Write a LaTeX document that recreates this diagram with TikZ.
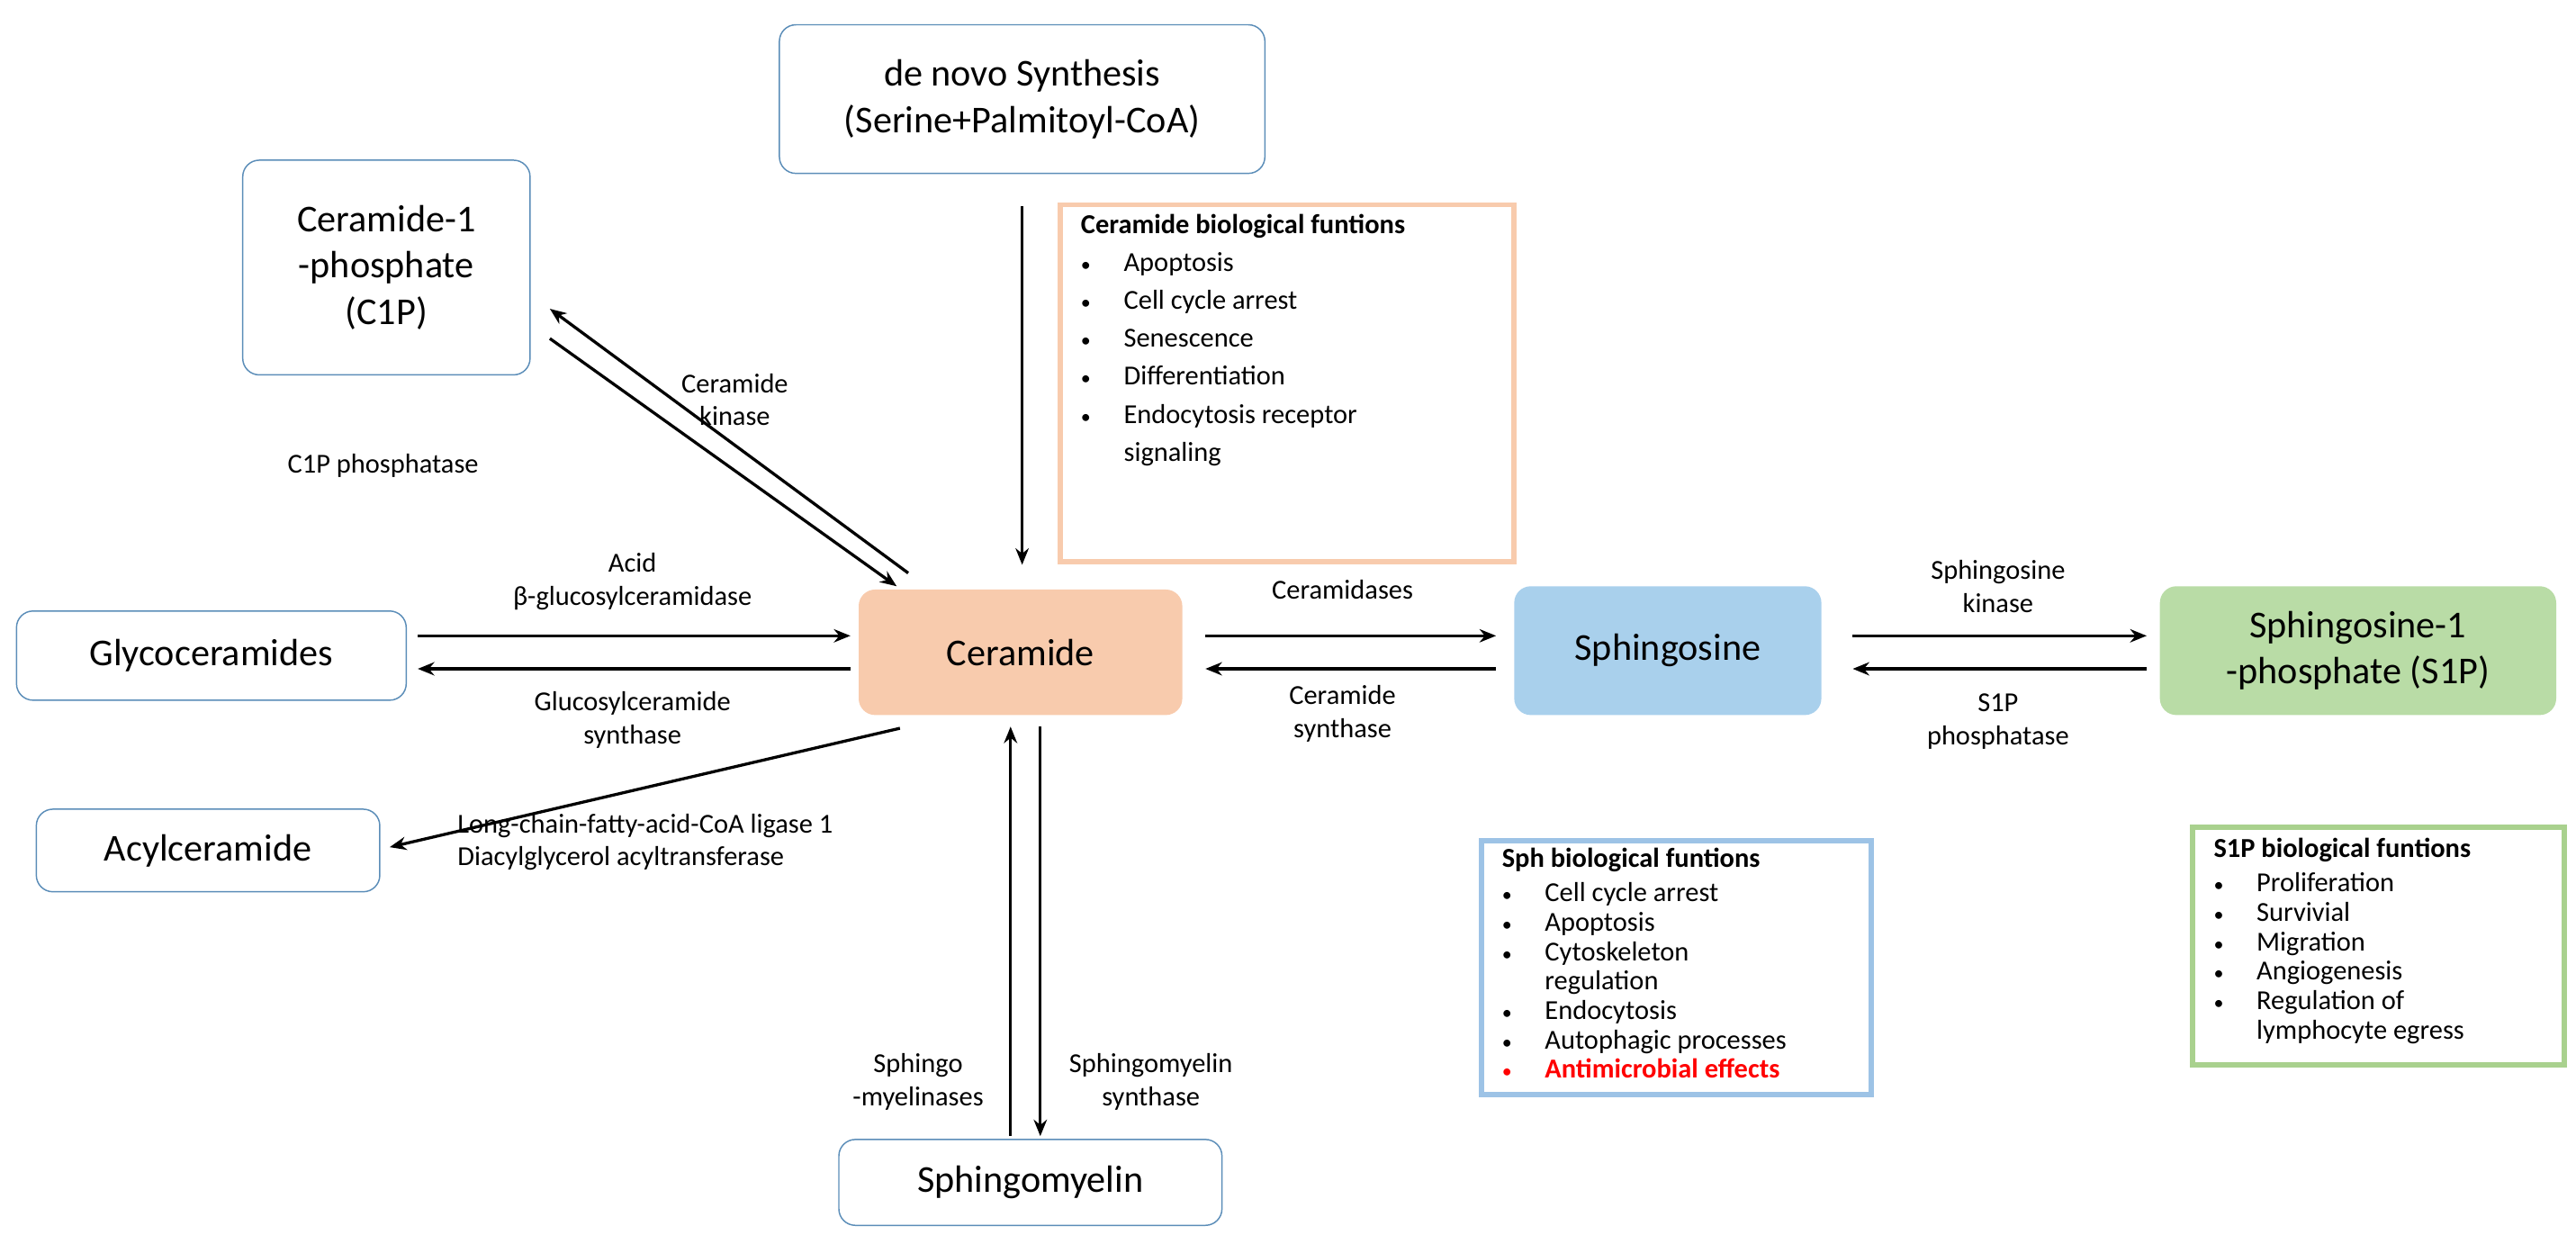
\documentclass[tikz,border=0pt]{standalone}
\usepackage{fontspec}
\setmainfont{Carlito}
\usetikzlibrary{arrows.meta}
\definecolor{bedge}{HTML}{5B8DB8}
\definecolor{cer}{HTML}{F8CBAD}
\definecolor{sph}{HTML}{A9D0EC}
\definecolor{sop}{HTML}{B9DCA6}
\definecolor{cerb}{HTML}{F8CBAD}
\definecolor{sphb}{HTML}{9DC3E6}
\definecolor{sopb}{HTML}{A9D18E}
\newcommand{\bul}{{\fontsize{6}{6}\selectfont\textbullet}}
\begin{document}
\begin{tikzpicture}[x=0.5pt,y=-0.5pt,
 box/.style={draw=bedge,rounded corners=5pt,align=center,font=\fontsize{11.5}{14}\selectfont,inner sep=0pt},
 fill box/.style={rounded corners=5pt,align=center,font=\fontsize{11.5}{14}\selectfont,inner sep=0pt},
 lab/.style={align=center,font=\fontsize{8.3}{10}\selectfont},
 arr/.style={-{Stealth[length=5pt,width=4pt]},line width=0.9pt},
 fb/.style={line width=1.6pt,align=left,anchor=north west,inner sep=4pt}]
\useasboundingbox (0,0) rectangle (1560,753);
\node[box,minimum width=147pt,minimum height=45pt] (denovo) at (619,60) {de novo Synthesis\\(Serine+Palmitoyl-CoA)};
\node[box,minimum width=87pt,minimum height=65pt] (c1p) at (234,162) {Ceramide-1\\-phosphate\\(C1P)};
\node[box,minimum width=118pt,minimum height=27pt] (glyco) at (128,397) {Glycoceramides};
\node[box,minimum width=104pt,minimum height=25pt] (acyl) at (126,515) {Acylceramide};
\node[fill box,fill=cer,minimum width=98pt,minimum height=38pt] (cer) at (618,395) {Ceramide};
\node[fill box,fill=sph,minimum width=93pt,minimum height=39pt] (sph) at (1010,394) {Sphingosine};
\node[fill box,fill=sop,minimum width=120pt,minimum height=39pt] (s1p) at (1428,394) {Sphingosine-1\\-phosphate (S1P)};
\node[box,minimum width=116pt,minimum height=26pt] (sm) at (624,716) {Sphingomyelin};

\coordinate (d1) at (619,125); \coordinate (d2) at (619,342);
\draw[arr] (d1) -- (d2);
\coordinate (a1) at (550,347); \coordinate (a2) at (333,187);
\coordinate (b1) at (333,205); \coordinate (b2) at (543,355);
\draw[arr] (a1) -- (a2); \draw[arr] (b1) -- (b2);
\node[lab] (lk) at (445,242) {Ceramide\\kinase};
\node[lab] (lp) at (232,282) {C1P phosphatase};
\coordinate (g1) at (253,385); \coordinate (g2) at (515,385);
\coordinate (g3) at (515,405); \coordinate (g4) at (253,405);
\draw[arr] (g1) -- (g2); \draw[arr] (g3) -- (g4);
\node[lab] (lg1) at (383,352) {Acid\\β-glucosylceramidase};
\node[lab] (lg2) at (383,436) {Glucosylceramide\\synthase};
\coordinate (ac1) at (545,441); \coordinate (ac2) at (236,513);
\draw[arr] (ac1) -- (ac2);
\node[lab,align=left,anchor=west] (lac) at (270,510) {Long-chain-fatty-acid-CoA ligase 1\\Diacylglycerol acyltransferase};
\coordinate (s1) at (612,688); \coordinate (s2) at (612,440);
\coordinate (s3) at (630,440); \coordinate (s4) at (630,688);
\draw[arr] (s1) -- (s2); \draw[arr] (s3) -- (s4);
\node[lab] (ls1) at (556,655) {Sphingo\\-myelinases};
\node[lab] (ls2) at (697,655) {Sphingomyelin\\synthase};
\coordinate (c1) at (730,385); \coordinate (c2) at (906,385);
\coordinate (c3) at (906,405); \coordinate (c4) at (730,405);
\draw[arr] (c1) -- (c2); \draw[arr] (c3) -- (c4);
\node[lab] (lc1) at (813,357) {Ceramidases};
\node[lab] (lc2) at (813,432) {Ceramide\\synthase};
\coordinate (k1) at (1122,385); \coordinate (k2) at (1300,385);
\coordinate (k3) at (1300,405); \coordinate (k4) at (1122,405);
\draw[arr] (k1) -- (k2); \draw[arr] (k3) -- (k4);
\node[lab] (lk1) at (1210,355) {Sphingosine\\kinase};
\node[lab] (lk2) at (1210,437) {S1P\\phosphatase};

\draw[draw=cerb,line width=1.6pt] (642,124) rectangle (917,340);
\node[fb,font=\fontsize{8.3}{11.5}\selectfont] (cf) at (645,120) {\textbf{Ceramide biological funtions}\\
\bul\hspace{10pt}Apoptosis\\ \bul\hspace{10pt}Cell cycle arrest\\ \bul\hspace{10pt}Senescence\\ \bul\hspace{10pt}Differentiation\\ \bul\hspace{10pt}Endocytosis receptor\\ \hspace{13pt}signaling};
\draw[draw=sphb,line width=1.6pt] (897,509) rectangle (1133,663);
\node[fb,font=\fontsize{8.3}{8.9}\selectfont] (sf) at (900,504) {\textbf{Sph biological funtions}\\[1.5pt]
\bul\hspace{10pt}Cell cycle arrest\\ \bul\hspace{10pt}Apoptosis\\ \bul\hspace{10pt}Cytoskeleton\\ \hspace{13pt}regulation\\ \bul\hspace{10pt}Endocytosis\\ \bul\hspace{10pt}Autophagic processes\\ \textcolor{red}{\bul\hspace{10pt}\textbf{Antimicrobial effects}}};
\draw[draw=sopb,line width=1.6pt] (1328,501) rectangle (1553,645);
\node[fb,font=\fontsize{8.3}{8.9}\selectfont] (pf) at (1331,498) {\textbf{S1P biological funtions}\\[1.5pt]
\bul\hspace{10pt}Proliferation\\ \bul\hspace{10pt}Survivial\\ \bul\hspace{10pt}Migration\\ \bul\hspace{10pt}Angiogenesis\\ \bul\hspace{10pt}Regulation of\\ \hspace{13pt}lymphocyte egress};
\end{tikzpicture}
\end{document}
